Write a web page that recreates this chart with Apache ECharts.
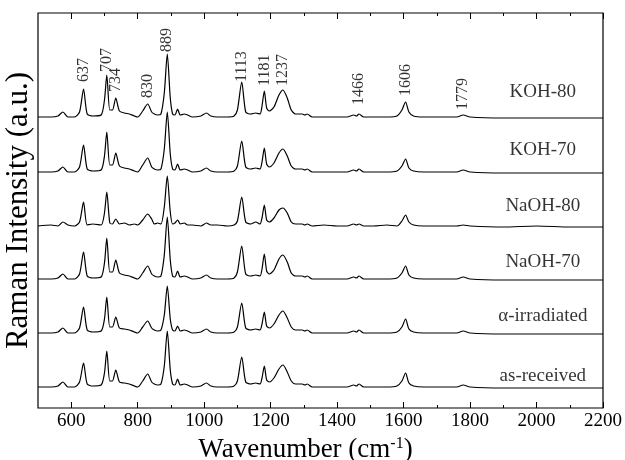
<!DOCTYPE html>
<html>
<head>
<meta charset="utf-8">
<script src="https://cdn.jsdelivr.net/npm/echarts@6/dist/echarts.min.js"></script>
<style>
  html, body { margin: 0; padding: 0; background: #fff; }
  #chart { width: 625px; height: 460px; }
</style>
</head>
<body>
<div id="chart"></div>
<script>
// wavenumber grid (cm-1) shared by all spectra
const wavenumbers = [500,540,560,575,590,610,625,637,648,665,690,700,707,716,724,734,745,760,775,790,
  800,815,830,842,850,860,870,880,889,898,905,912,920,928,940,950,965,990,1007,1020,
  1040,1070,1090,1100,1113,1125,1140,1155,1168,1174,1181,1188,1196,1210,1225,1237,1250,1262,1275,1295,
  1303,1310,1325,1360,1400,1430,1450,1458,1466,1480,1510,1550,1580,1595,1606,1616,1630,1660,1700,1760,
  1779,1800,1900,2000,2100,2200]

// intensities above each trace's own baseline (a.u.)
const koh80 = [1,1,2,6,1,1,6,29,4,2,3,18,43,8,8,20,7,5,4,2,
  1,7,14,6,4,3,4,25,64,20,4,3,9,3,4,3,1,2,5,2,
  1,1,2,8,36,6,4,5,4,12,27,10,7,11,23,28,20,8,4,4,
  3,4,1,1,1,1,3,2,4,1,1,1,2,8,16,6,2,1,1,1,
  3,1,0,0,0,0]
const koh70 = [1,1,2,6,1,1,6,28,4,2,3,17,41,8,8,20,7,5,4,2,
  1,8,15,6,4,3,4,24,61,19,4,3,9,3,4,3,1,2,5,2,
  1,1,2,7,32,6,4,5,4,11,25,9,6,10,20,24,17,7,4,4,
  3,4,1,1,1,1,3,2,4,1,1,1,2,7,14,5,2,1,1,1,
  3,1,0,0,0,0]
const naoh80 = [1,2,1,5,2,1,5,25,2,3,2,14,35,4,3,8,3,4,2,3,
  2,7,13,8,3,4,3,20,51,15,3,4,7,3,4,2,2,1,4,2,
  2,1,2,6,30,5,3,5,3,9,22,7,5,9,17,19,14,5,3,3,
  2,3,1,2,1,1,3,2,3,1,1,2,1,6,12,5,2,1,1,1,
  2,1,0,1,0,0]
const naoh70 = [1,1,2,6,1,1,6,28,4,2,3,17,42,8,8,20,7,5,4,2,
  1,7,14,6,4,3,4,25,63,20,4,3,9,3,4,3,1,2,5,2,
  1,1,2,8,34,6,4,5,4,11,26,9,6,10,21,25,18,7,4,4,
  3,4,1,1,1,1,3,2,4,1,1,1,2,7,14,5,2,1,1,1,
  3,1,0,0,0,0]
const alphaIrr = [1,1,2,6,1,1,6,27,4,2,3,15,37,7,7,17,6,5,4,2,
  1,7,13,6,4,3,4,19,48,15,4,3,8,3,4,3,1,2,5,2,
  1,1,2,7,31,6,4,5,4,10,22,8,6,10,19,23,16,7,4,4,
  3,4,1,1,1,1,3,2,4,1,1,1,2,7,15,5,2,1,1,1,
  3,1,0,0,0,0]
const asReceived = [1,1,2,6,1,1,6,25,4,2,3,15,37,7,7,18,6,5,4,2,
  1,7,14,6,4,3,4,22,57,18,4,3,9,3,4,3,1,2,5,2,
  1,1,2,7,31,6,4,5,4,10,22,8,6,10,19,23,16,7,4,4,
  3,4,1,1,1,1,3,2,4,1,1,1,2,7,15,5,2,1,1,1,
  3,1,0,0,0,0]

const sampleNames = ['as-received', 'α-irradiated', 'NaOH-70', 'NaOH-80', 'KOH-70', 'KOH-80']
const baselines = [20, 74, 128, 181, 235, 290]
const nameLevels = [32, 92, 146, 202, 258, 316]
const spectra = [asReceived, alphaIrr, naoh70, naoh80, koh70, koh80]

// peak assignments written above the KOH-80 trace
const peakLabels = [637, 707, 734, 830, 889, 1113, 1181, 1237, 1466, 1606, 1779]
const peakLabelLevels = [326, 336, 316, 310, 356, 326, 322, 322, 303, 312, 298]

const xMajor = [600, 800, 1000, 1200, 1400, 1600, 1800, 2000, 2200]
const xMinor = [700, 900, 1100, 1300, 1500, 1700, 1900, 2100]

const serif = "'Liberation Serif', 'DejaVu Serif', serif"

const chart = echarts.init(document.getElementById('chart'))

function tickAxis(position, values, len, showLabel) {
  return {
    type: 'value',
    position,
    min: 500,
    max: 2200,
    axisLine: { show: false },
    splitLine: { show: false },
    axisTick: { show: true, inside: true, length: len, customValues: values, lineStyle: { color: '#000', width: 1 } },
    axisLabel: showLabel
      ? { show: true, customValues: values, formatter: v => String(v), color: '#000', fontFamily: serif, fontSize: 19, margin: 4 }
      : { show: false }
  }
}

const xAxes = [
  tickAxis('bottom', xMajor, 6, true),
  tickAxis('bottom', xMinor, 3, false),
  tickAxis('top', xMajor, 6, false),
  tickAxis('top', xMinor, 3, false)
]
xAxes[0].name = 'Wavenumber (cm{sup|-1})'
xAxes[0].nameLocation = 'middle'
xAxes[0].nameGap = 17
xAxes[0].nameTextStyle = {
  color: '#000', fontFamily: serif, fontSize: 27, padding: [0, 30, 0, 0],
  rich: { sup: { fontFamily: serif, fontSize: 16, color: '#000', padding: [0, 0, 13, 0] } }
}

const series = spectra.map((vals, k) => ({
  name: sampleNames[k],
  type: 'line',
  xAxisIndex: 0,
  data: wavenumbers.map((w, i) => [w, vals[i] + baselines[k]]),
  showSymbol: false,
  smooth: 0.25,
  lineStyle: { color: '#000', width: 1.2 },
  silent: true
}))

series.push({
  type: 'scatter',
  symbolSize: 0,
  silent: true,
  data: peakLabels.map((p, i) => [p, peakLabelLevels[i]]),
  label: {
    show: true,
    position: 'inside',
    rotate: 90,
    align: 'left',
    verticalAlign: 'middle',
    formatter: p => String(p.value[0]),
    color: '#000',
    fontFamily: serif,
    fontSize: 16
  }
})

series.push({
  type: 'scatter',
  symbolSize: 0,
  silent: true,
  data: sampleNames.map((n, i) => ({ name: n, value: [2019, nameLevels[i]] })),
  label: {
    show: true,
    position: 'inside',
    formatter: p => p.name,
    color: '#000',
    fontFamily: serif,
    fontSize: 19
  }
})

chart.setOption({
  animation: false,
  backgroundColor: '#fff',
  grid: {
    left: 38, right: 22, top: 13, bottom: 52,
    outerBoundsMode: 'none', containLabel: false,
    show: true, borderColor: '#000', borderWidth: 1.2, backgroundColor: 'transparent'
  },
  xAxis: xAxes,
  yAxis: {
    type: 'value',
    min: 0,
    max: 395,
    axisLine: { show: false },
    axisTick: { show: false },
    axisLabel: { show: false },
    splitLine: { show: false },
    name: 'Raman Intensity (a.u.)',
    nameLocation: 'middle',
    nameRotate: 90,
    nameGap: 4,
    nameTextStyle: { color: '#000', fontFamily: serif, fontSize: 31 }
  },
  series
})
</script>
</body>
</html>
